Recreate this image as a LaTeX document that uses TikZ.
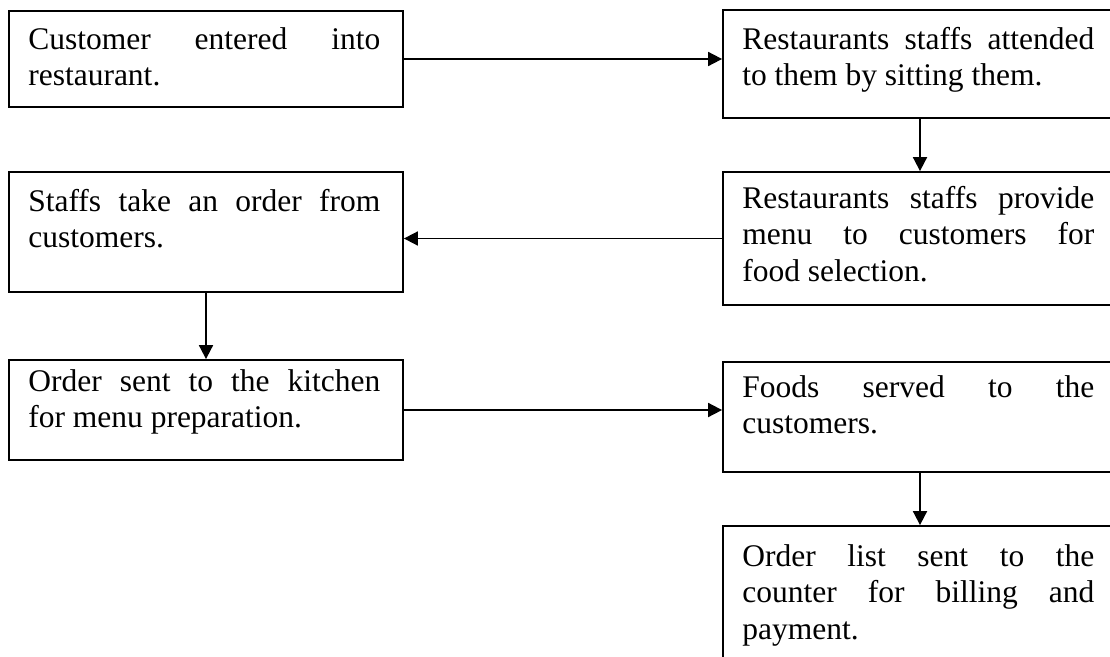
\documentclass[tikz,border=0pt]{standalone}
\usepackage{fontspec}
\setmainfont{Liberation Serif}
\usetikzlibrary{arrows.meta,calc}
\tikzset{
  bx/.style={draw, line width=1.8pt, rectangle, minimum width=394pt, inner sep=0pt},
  txt/.style={inner sep=0pt, anchor=base west, font=\fontsize{31.5}{36.6}\selectfont},
  arr/.style={line width=1.8pt, -{Triangle[length=14pt,width=14pt]}}
}
\newcommand\jline[1]{\makebox[352pt][s]{#1}}
\begin{document}
\begin{tikzpicture}[x=1pt,y=-1pt]
\useasboundingbox (0,0) rectangle (1110,656);
\clip (0,0) rectangle (1110,656);
% boxes
\node[bx, minimum height=96pt]  (b1) at (206,59) {};
\node[bx, minimum height=108pt] (b2) at (920,64) {};
\node[bx, minimum height=120pt] (b3) at (206,232) {};
\node[bx, minimum height=133pt] (b4) at (920,238.5) {};
\node[bx, minimum height=100pt] (b5) at (206,410) {};
\node[bx, minimum height=110pt] (b6) at (920,417) {};
\node[bx, minimum height=194pt] (b7) at (920,623) {};
% texts
\node[txt] (t1) at ($(b1.north west)+(20,39)$) {\parbox[t]{352pt}{\jline{Customer entered into}\\restaurant.}};
\node[txt] (t2) at ($(b2.north west)+(20,40)$) {\parbox[t]{352pt}{\jline{Restaurants staffs attended}\\to them by sitting them.}};
\node[txt] (t3) at ($(b3.north west)+(20,40)$) {\parbox[t]{352pt}{\jline{Staffs take an order from}\\customers.}};
\node[txt] (t4) at ($(b4.north west)+(20,37)$) {\parbox[t]{352pt}{\jline{Restaurants staffs provide}\\\jline{menu to customers for}\\food selection.}};
\node[txt] (t5) at ($(b5.north west)+(20,32)$) {\parbox[t]{352pt}{\jline{Order sent to the kitchen}\\for menu preparation.}};
\node[txt] (t6) at ($(b6.north west)+(20,36)$) {\parbox[t]{352pt}{\jline{Foods served to the}\\customers.}};
\node[txt] (t7) at ($(b7.north west)+(20,41)$) {\parbox[t]{352pt}{\jline{Order list sent to the}\\\jline{counter for billing and}\\payment.}};
% connectors
\draw[arr] (b1.east) -- (b2.west |- b1.east);
\draw[arr] (b2.south) -- (b4.north);
\draw[arr] (b4.west) -- (b3.east |- b4.west);
\draw[arr] (b3.south) -- (b5.north);
\draw[arr] (b5.east) -- (b6.west |- b5.east);
\draw[arr] (b6.south) -- (b7.north);
\end{tikzpicture}
\end{document}
